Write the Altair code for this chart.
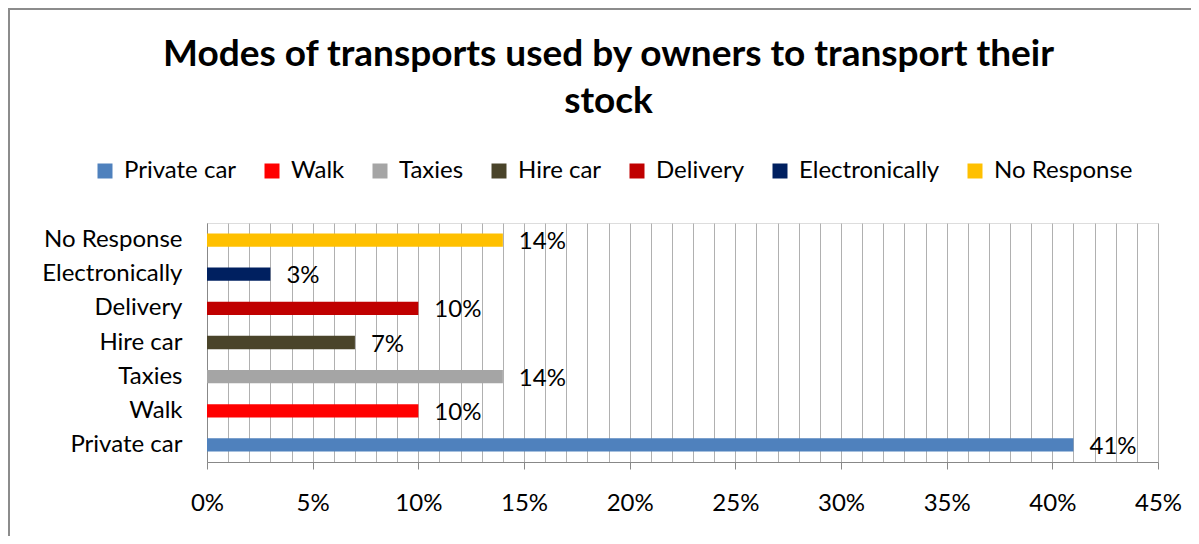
import altair as alt
import pandas as pd

categories = ["Private car", "Walk", "Taxies", "Hire car", "Delivery", "Electronically", "No Response"]
values = [0.41, 0.10, 0.14, 0.07, 0.10, 0.03, 0.14]
colors = ["#4F81BD", "#FF0000", "#A5A5A5", "#4A442A", "#C00000", "#002060", "#FFC000"]
grid_values = [i / 100 for i in range(46)]

df = pd.DataFrame({"mode": categories, "share": values})

FONT = "Lato"
FS = 24
W, H = 951, 239

x_enc = alt.X(
    "share:Q",
    scale=alt.Scale(domain=[0, 0.45], nice=False, zero=True),
    axis=alt.Axis(
        values=grid_values,
        tickCount=100,
        labelExpr="round(datum.value*100) % 5 == 0 ? format(datum.value, '.0%') : ''",
        labelOverlap=False,
        labelFlush=False,
        labelFont=FONT,
        labelFontSize=FS,
        labelColor="#000000",
        labelPadding=22,
        grid=True,
        gridColor="#B0B0B0",
        gridWidth=1,
        domainColor="#888888",
        tickColor="#888888",
        tickSize=7,
        tickOpacity={"condition": {"test": "round(datum.value*100) % 5 == 0", "value": 1}, "value": 0},
        title=None,
    ),
)
y_enc = alt.Y(
    "mode:N",
    sort=categories[::-1],
    scale=alt.Scale(paddingInner=0.61, paddingOuter=0.305),
    axis=alt.Axis(
        title=None,
        ticks=False,
        domainColor="#888888",
        labelFont=FONT,
        labelFontSize=FS,
        labelColor="#000000",
        labelPadding=25,
        grid=False,
    ),
)

bars = alt.Chart(df).mark_bar().encode(
    x=x_enc,
    y=y_enc,
    color=alt.Color(
        "mode:N",
        scale=alt.Scale(domain=categories, range=colors),
        sort=categories,
        legend=alt.Legend(
            title=None,
            orient="none",
            direction="horizontal",
            legendX=-114,
            legendY=-64,
            symbolType="square",
            symbolSize=225,
            symbolStrokeWidth=0,
            symbolOpacity=1,
            labelFont=FONT,
            labelFontSize=FS,
            labelColor="#000000",
            labelOffset=7,
            columnPadding=23,
        ),
    ),
)

labels = alt.Chart(df).mark_text(
    align="left", baseline="middle", dx=16, dy=2, font=FONT, fontSize=FS, color="#000000"
).encode(
    x="share:Q",
    y=alt.Y("mode:N", sort=categories[::-1]),
    text=alt.Text("share:Q", format=".0%"),
)

border = alt.Chart(alt.Data(values=[{}])).mark_rect(
    fill=None, stroke="#8C8C8C", strokeWidth=2
).encode(
    x=alt.value(-198),
    x2=alt.value(1020),
    y=alt.value(-214),
    y2=alt.value(400),
)

chart = (
    alt.layer(border, bars, labels)
    .properties(
        width=W,
        height=H,
        title=alt.TitleParams(
            text=["Modes of transports used by owners to transport their", "stock"],
            font=FONT,
            fontSize=37,
            fontWeight="bold",
            color="#000000",
            anchor="middle",
            dx=-74,
            lineHeight=47,
            offset=-113,
        ),
        autosize=alt.AutoSizeParams(type="none"),
        padding={"left": 199, "top": 215, "right": 33, "bottom": 74},
    )
    .configure_view(stroke=None)
    .configure(background="#FFFFFF")
)

chart.save("out.html", embed_options={"renderer": "svg", "actions": False})
